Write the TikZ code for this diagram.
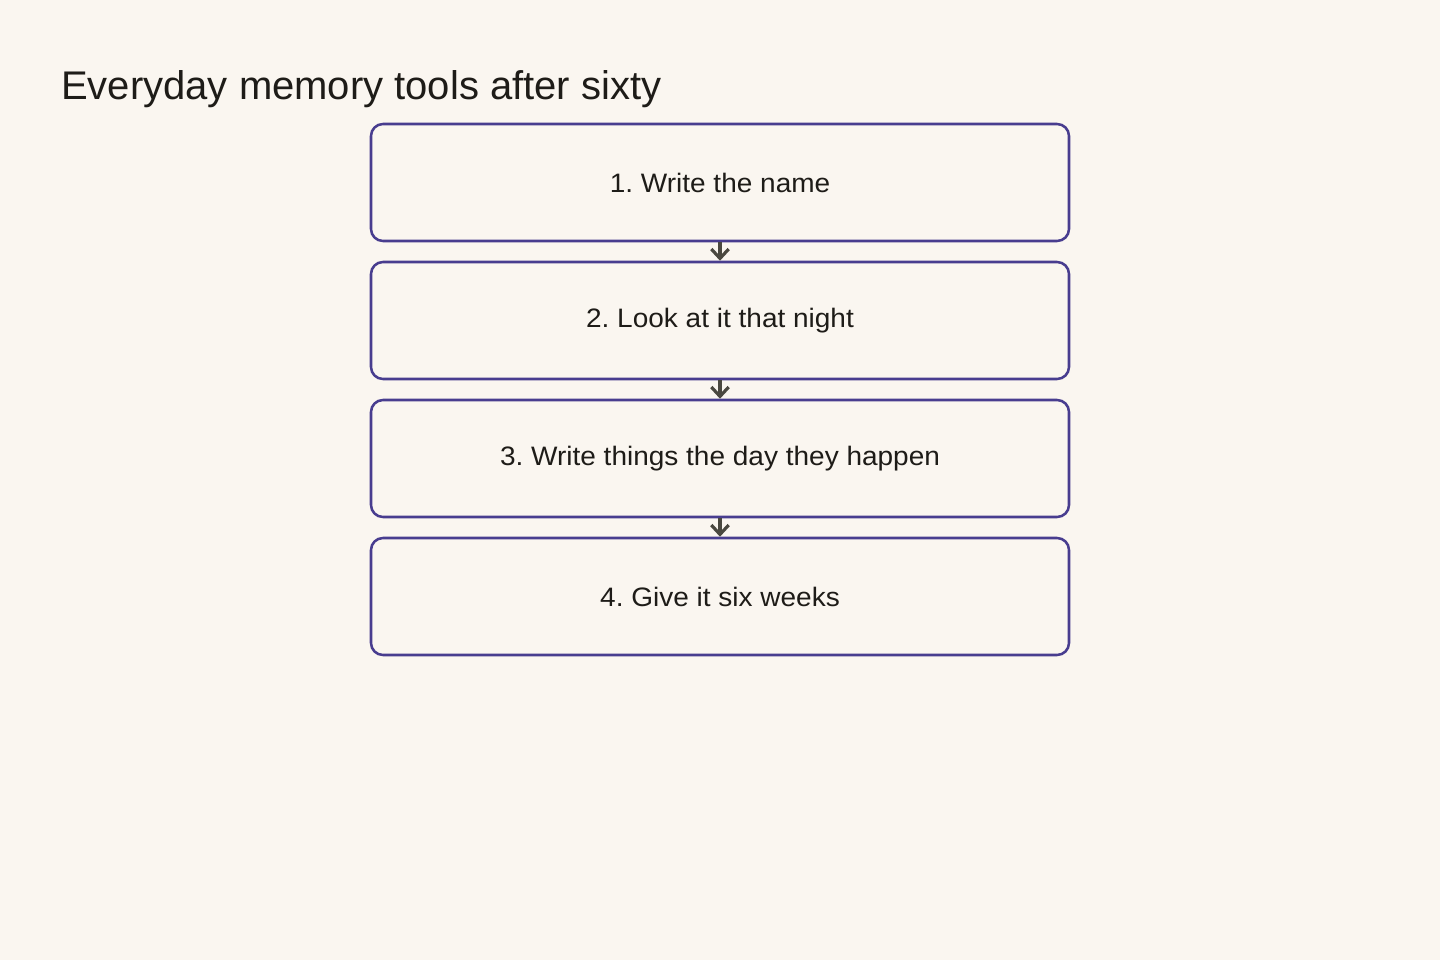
\documentclass[tikz,border=0pt]{standalone}
\usepackage{fontspec}
\setmainfont{Liberation Sans}
\newfontfamily\boxfont[FakeStretch=1.05]{Liberation Sans}
\definecolor{bg}{HTML}{FAF6F0}
\definecolor{boxline}{HTML}{483D8F}
\definecolor{arrowc}{HTML}{4A4840}
\definecolor{txt}{HTML}{1E1C18}
\usetikzlibrary{arrows.meta}
\begin{document}
\frenchspacing
\begin{tikzpicture}[x=0.75pt,y=-0.75pt,
  stepbox/.style={draw=boxline,line width=1.9pt,rounded corners=9pt,fill=bg,
    minimum width=523.5pt,minimum height=87.75pt,inner sep=0pt,text=txt,
    font=\boxfont\fontsize{20pt}{24pt}\selectfont},
  flow/.style={draw=arrowc,line width=2.4pt,-{Straight Barb[length=7pt,width=13pt]}}]
\fill[bg] (0,0) rectangle (1440,960);
\useasboundingbox (0,0) rectangle (1440,960);
\node[anchor=base west,text=txt,inner sep=0pt,font=\fontsize{30pt}{34pt}\selectfont] (title) at (61,99) {Everyday memory tools after sixty};
\node[stepbox] (s1) at (720,182.5) {1. Write the name};
\node[stepbox] (s2) at (720,320.5) {2. Look at it that night};
\node[stepbox] (s3) at (720,458.5) {3. Write things the day they happen};
\node[stepbox] (s4) at (720,596.5) {4. Give it six weeks};
\draw[flow] (s1.south) -- (s2.north);
\draw[flow] (s2.south) -- (s3.north);
\draw[flow] (s3.south) -- (s4.north);
\end{tikzpicture}
\end{document}
